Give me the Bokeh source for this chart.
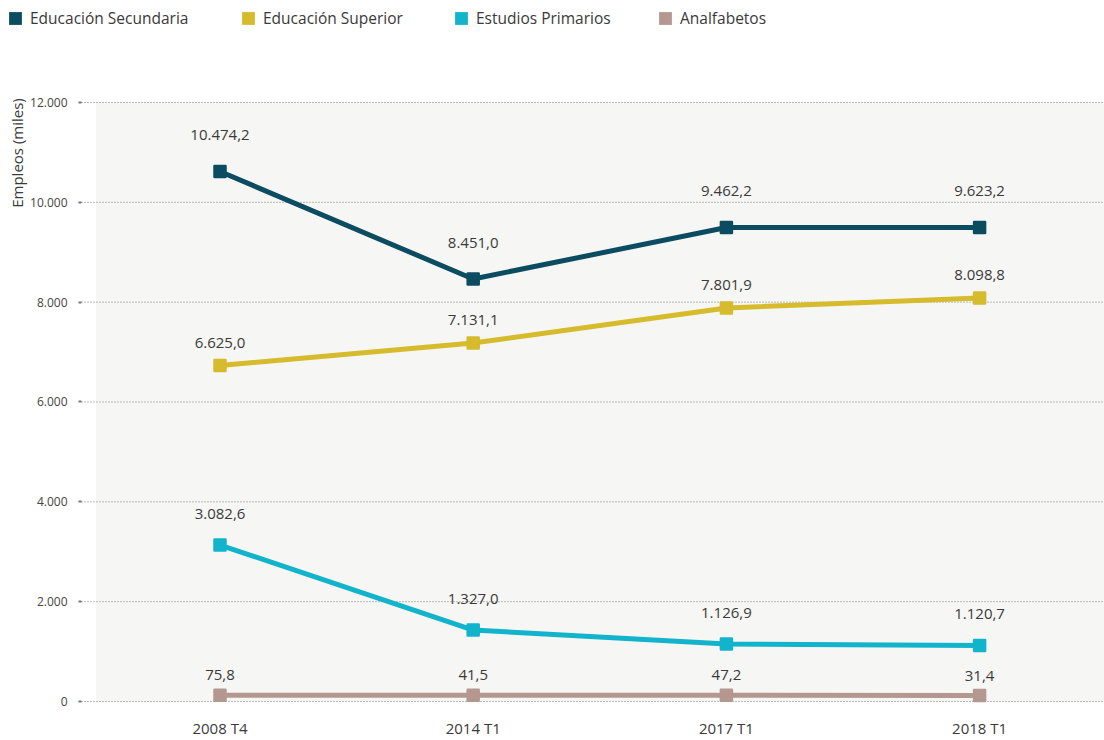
import math
from bokeh.plotting import figure
from bokeh.models import (Range1d, FixedTicker, BoxAnnotation, Legend, LegendItem, Label)
from bokeh.core.properties import value
from bokeh.embed import file_html
from bokeh.resources import INLINE

# ---- data -------------------------------------------------------------
periods = ["2008 T4", "2014 T1", "2017 T1", "2018 T1"]
series_names = ["Educación Secundaria", "Educación Superior", "Estudios Primarios", "Analfabetos"]

secundaria = [10618, 8464, 9496, 9496]
superior = [6731, 7182, 7883, 8083]
primarios = [3135, 1432, 1152, 1122]
analfabetos = [125, 125, 125, 120]

secundaria_labels = ["10.474,2", "8.451,0", "9.462,2", "9.623,2"]
superior_labels = ["6.625,0", "7.131,1", "7.801,9", "8.098,8"]
primarios_labels = ["3.082,6", "1.327,0", "1.126,9", "1.120,7"]
analfabetos_labels = ["75,8", "41,5", "47,2", "31,4"]

y_ticks = [0, 2000, 4000, 6000, 8000, 10000, 12000]
y_tick_labels = ["0", "2.000", "4.000", "6.000", "8.000", "10.000", "12.000"]

# ---- style / layout constants ------------------------------------------
FONT = "Open Sans"
TEXT = "#3a3a3a"
colors = ["#0b4c60", "#d6bb2c", "#12b4cc", "#b49890"]
label_offsets = [36, 23, 31, 20]
legend_x = [7, 240, 453, 657]
X0, X1 = -0.8669, 3.4933          # visible x span (whole canvas)
Y0, Y1 = -781.3, 14043.3          # visible y span (whole canvas)
AXIS_X = -0.547                   # where the value axis / grid start
AXIS_Y = -100                     # where the category labels hang from

xs = list(range(len(periods)))
values_all = [secundaria, superior, primarios, analfabetos]
labels_all = [secundaria_labels, superior_labels, primarios_labels, analfabetos_labels]

p = figure(width=1104, height=740,
           x_range=Range1d(X0, X1), y_range=Range1d(Y0, Y1),
           output_backend="svg", toolbar_location=None,
           min_border=0, min_border_left=0, min_border_right=0,
           min_border_top=0, min_border_bottom=0,
           background_fill_color="white", border_fill_color="white",
           outline_line_color=None)

# grey plotting panel
p.add_layout(BoxAnnotation(left=-0.49, bottom=0, top=12000, fill_color="#f6f6f4",
                           fill_alpha=1, line_color=None, level="image"))

# value axis (drawn at a fixed location inside the canvas)
yt = FixedTicker(ticks=y_ticks)
p.yaxis.fixed_location = AXIS_X
p.yaxis.ticker = yt
p.yaxis.major_label_overrides = dict(zip(y_ticks, y_tick_labels))
p.yaxis.axis_line_color = None
p.yaxis.major_tick_in = 0
p.yaxis.major_tick_out = 3
p.yaxis.major_tick_line_color = "#777777"
p.yaxis.major_tick_line_width = 2
p.yaxis.minor_tick_line_color = None
p.yaxis.major_label_standoff = 11
p.yaxis.major_label_text_font = FONT
p.yaxis.major_label_text_font_size = "12px"
p.yaxis.major_label_text_color = "#444444"

# category axis
p.xaxis.fixed_location = AXIS_Y
p.xaxis.ticker = FixedTicker(ticks=xs)
p.xaxis.major_label_overrides = dict(zip(xs, periods))
p.xaxis.axis_line_color = None
p.xaxis.major_tick_line_color = None
p.xaxis.major_tick_in = 0
p.xaxis.major_tick_out = 0
p.xaxis.minor_tick_line_color = None
p.xaxis.major_label_standoff = 12
p.xaxis.major_label_text_font = FONT
p.xaxis.major_label_text_font_size = "15px"
p.xaxis.major_label_text_color = TEXT

# horizontal dotted grid lines, starting at the value axis
p.xgrid.grid_line_color = None
p.ygrid.grid_line_color = None
p.segment(x0=[AXIS_X] * len(y_ticks), y0=y_ticks, x1=[X1] * len(y_ticks), y1=y_ticks,
          line_color="#7a7a7a", line_dash="1 2", line_width=1)

# series
legend_renderers = []
for vals, labs, c, off in zip(values_all, labels_all, colors, label_offsets):
    p.line(xs, vals, line_width=5, line_color=c)
    p.scatter(xs, vals, marker="square", size=11, fill_color=c, line_color=c,
              line_width=2.5, line_join="round")
    p.text(xs, vals, text=labs, text_align="center", text_baseline="middle",
           y_offset=-off, text_font=value(FONT), text_font_size="15px", text_color=TEXT)
    legend_renderers.append(
        p.quad(left=[X1 + 1], right=[X1 + 2], top=[Y1 + 2], bottom=[Y1 + 1],
               fill_color=c, line_color=None))

# legend: one entry per position
for name, r, lx in zip(series_names, legend_renderers, legend_x):
    lg = Legend(items=[LegendItem(label=name, renderers=[r])], location=(lx, 711),
                orientation="horizontal", glyph_width=16, glyph_height=16,
                label_standoff=7, padding=0, margin=0, border_line_color=None,
                background_fill_alpha=0, label_text_font=FONT,
                label_text_font_size="15.5px", label_text_color=TEXT)
    p.add_layout(lg)

# y axis title near the top of the axis
p.add_layout(Label(x=-0.8017, y=10988, text="Empleos (miles)", angle=math.pi / 2,
                   text_align="center", text_baseline="middle", text_font=FONT,
                   text_font_size="15px", text_color=TEXT))

open("out.html", "w").write(file_html(p, INLINE))
